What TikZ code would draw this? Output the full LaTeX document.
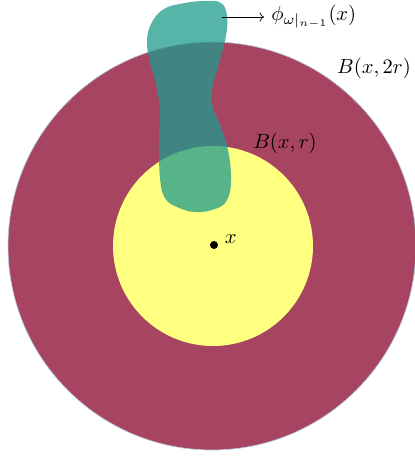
\documentclass[tikz,border=0pt]{standalone}
\usetikzlibrary{positioning,arrows.meta}

\definecolor{ballbig}{RGB}{167,68,98}
\definecolor{ballsmall}{RGB}{255,255,128}
\definecolor{blobteal}{RGB}{30,155,140}
\definecolor{rimblue}{RGB}{185,205,225}

\begin{document}
\begin{tikzpicture}[
  x=0.02cm, y=-0.02cm,
  >=To,
  arrow/.style={->, thin},
  ball/.style={line width=0.4pt},
  every node/.style={scale=1.17}
]
\useasboundingbox (0,0) rectangle (414,460);

% Bola grande y bola pequena
\fill[ballbig, draw=rimblue, ball] (212,246) circle[radius=204];
\fill[ballsmall] (213,246) circle[radius=100];

% Centro
\fill (214,245) circle[radius=4] coordinate (c);
\node[right=2pt of c, yshift=3pt] (xlab) {$x$};

% Conjunto phi (mancha)
\fill[blobteal, opacity=0.75] plot[smooth cycle, tension=0.7] coordinates {
  (147,42) (151,24) (164,9) (185,3) (206,1) (221,3) (227,16) (226,36)
  (219,63) (212,90) (213,108) (220,125) (228,150) (231,180) (227,200)
  (215,209) (195,212) (177,207) (165,198) (160,178) (159,140) (160,110)
  (156,85) (150,62)};

% Etiquetas
\coordinate (blobtip) at (222,17);
\node[anchor=west] (phi) at (264,17) {$\phi_{\omega|_{n-1}}(x)$};
\node (bigr) at (374,68) {$B(x,2r)$};
\node (smallr) at (285,143) {$B(x,r)$};

% Flecha
\draw[arrow] (blobtip) -- (phi.west);

\end{tikzpicture}
\end{document}
